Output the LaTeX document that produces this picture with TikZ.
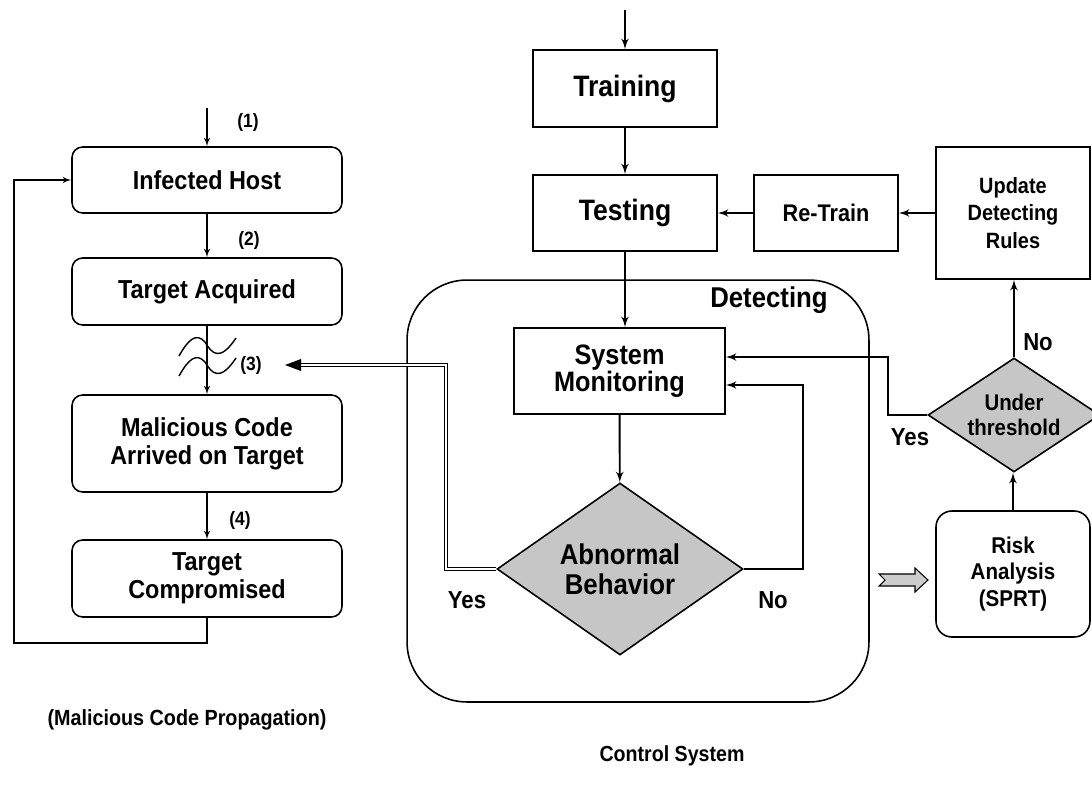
\documentclass[tikz,border=0pt]{standalone}
\usepackage{fontspec}
\setmainfont{Liberation Sans}[FakeStretch=0.9]
\usetikzlibrary{arrows}
\usetikzlibrary{shapes.geometric}
\usetikzlibrary{calc}

\begin{document}
\begin{tikzpicture}[x=0.02cm, y=-0.02cm, >=latex',
  rbox/.style={draw, line width=.9pt, rounded corners=6pt, align=center, font=\bfseries\fontsize{14.8}{16}\selectfont, minimum width=5.4cm},
  sbox/.style={draw, line width=.9pt, align=center},
  dia/.style={draw, diamond, line width=.9pt, fill=gray!45, inner sep=0pt, align=center},
  lab/.style={font=\bfseries\fontsize{11}{12}\selectfont},
  yn/.style={font=\bfseries\fontsize{14}{15}\selectfont},
  flow/.style={->, line width=.7pt},
  link/.style={->, line width=1.1pt}
]
\useasboundingbox (0,0) rectangle (1092,785);

% malicious code propagation
\node[rbox, minimum height=1.32cm] (host) at (207,180) {Infected Host};
\node[rbox, minimum height=1.34cm] (acq) at (207,291.5) {Target Acquired};
\node[rbox, minimum height=1.94cm] (arrived) at (207,443.5) {Malicious Code\\Arrived on Target};
\node[rbox, minimum height=1.54cm] (comp) at (207,578.5) {Target\\Compromised};

\coordinate (start) at (207,108);
\coordinate (back) at (14,643);
\draw[flow] (start) -- (host);
\draw[flow] (host) -- (acq);
\draw[flow] (acq) -- (arrived);
\draw[flow] (arrived) -- (comp);
\draw[flow] (comp.south) |- (back) |- (host.west);

\node[lab] (l1) at (248,122) {(1)};
\node[lab] (l2) at (249,240) {(2)};
\node[lab] (l3) at (251,365) {(3)};
\node[lab] (l4) at (240,520) {(4)};

\foreach \d in {0,20}
  \draw[line width=.8pt] (179,356+\d) .. controls (188,340+\d) and (196,332+\d) .. (205,342+\d) .. controls (212,354+\d) and (220,362+\d) .. (236,338+\d);

\node[font=\bfseries\fontsize{12.5}{13}\selectfont] (prop) at (187,720) {(Malicious Code Propagation)};

% control system
\node[draw, line width=.9pt, rounded corners=1.2cm, minimum width=9.24cm, minimum height=8.44cm] (detect) at (638,491) {};
\node[font=\bfseries\fontsize{16.3}{17}\selectfont] (detlab) at (769,300) {Detecting};

\node[sbox, font=\bfseries\fontsize{16.8}{18}\selectfont, minimum width=3.68cm, minimum height=1.54cm] (train) at (625,88.5) {Training};
\node[sbox, font=\bfseries\fontsize{16.8}{18}\selectfont, minimum width=3.68cm, minimum height=1.52cm] (test) at (625,213) {Testing};
\node[sbox, font=\bfseries\fontsize{13.7}{15}\selectfont, minimum width=2.88cm, minimum height=1.52cm] (retrain) at (826,213) {Re-Train};
\node[sbox, font=\bfseries\fontsize{12.6}{15.5}\selectfont, minimum width=3.08cm, minimum height=2.64cm] (update) at (1013,213) {Update\\Detecting\\Rules};
\node[sbox, font=\bfseries\fontsize{16}{15.5}\selectfont, minimum width=4.22cm, minimum height=1.72cm] (mon) at (619.5,371) {System\\Monitoring};
\node[dia, aspect=1.43, font=\bfseries\fontsize{16.3}{17}\selectfont, minimum width=4.92cm, minimum height=3.44cm] (abn) at (620,569) {Abnormal\\Behavior};
\node[dia, aspect=1.5, font=\bfseries\fontsize{12.9}{14}\selectfont, minimum width=3.44cm, minimum height=2.28cm] (under) at (1014,415) {Under\\threshold};
\node[draw, line width=.9pt, rounded corners=9pt, align=center, font=\bfseries\fontsize{13}{15.3}\selectfont, minimum width=3.08cm, minimum height=2.52cm] (risk) at (1013,574) {Risk\\Analysis\\(SPRT)};

\coordinate (top) at (625,10);
\coordinate (noturn) at (803,385);
\coordinate (yesturn) at (888,357);
\coordinate (dturn) at (446,365);
\coordinate (tip) at (285,365);

\draw[link] (top) -- (train);
\draw[link] (train) -- (test);
\draw[link] (update) -- (retrain);
\draw[link] (retrain) -- (test);
\draw[link] (test.south) -- (test.south |- mon.north);
\draw[link] (mon) -- (abn);
\draw[link] (abn.east) -| (noturn) -- (mon.east |- noturn);
\draw[link] (under.west) -| (yesturn) -- (mon.east |- yesturn);
\draw[link] (risk.north) -- (risk.north |- under.south);
\draw[link] (under.north) -- (under.north |- update.south);

\draw[line width=.6pt, double distance=1.6pt] (abn.west) -| (dturn) -- ($(tip)+(14,0)$);
\fill (tip) -- ++(16,-6) -- ++(0,12) -- cycle;

\filldraw[fill=gray!40, line width=.6pt] (879,574) -- (915,574) -- (915,568) -- (928,580) -- (915,592) -- (915,586) -- (879,586) -- (885,580) -- cycle;

\node[yn] (yes1) at (467,600) {Yes};
\node[yn] (no1) at (773,600) {No};
\node[yn] (yes2) at (910,437) {Yes};
\node[yn] (no2) at (1038,342) {No};

\node[font=\bfseries\fontsize{12.4}{13}\selectfont] (ctrl) at (672,756) {Control System};
\end{tikzpicture}
\end{document}
